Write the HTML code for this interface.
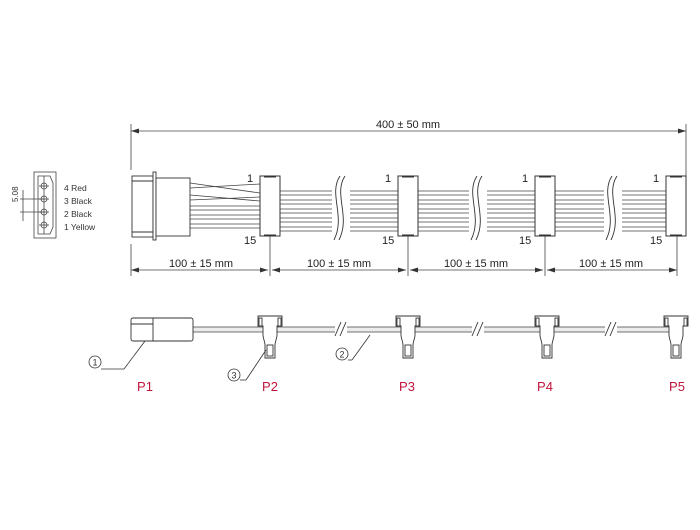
<!DOCTYPE html>
<html><head><meta charset="utf-8"><style>
html,body{margin:0;padding:0;background:#fff;width:700px;height:530px;overflow:hidden}
text{font-family:"Liberation Sans",sans-serif}
</style></head><body>
<svg width="700" height="530" viewBox="0 0 700 530" xmlns="http://www.w3.org/2000/svg">
<defs>
<marker id="ar" markerWidth="8" markerHeight="6" refX="8" refY="3" orient="auto-start-reverse" markerUnits="userSpaceOnUse"><path d="M0,0.5 L8,3 L0,5.5 z" fill="#333"/></marker>
<g id="blk">
<rect x="0" y="0" width="20" height="60" fill="#fff" stroke="#333" stroke-width="1"/>
<line x1="4" y1="0.5" x2="16" y2="0.5" stroke="#333" stroke-width="2"/>
<line x1="4" y1="59.5" x2="16" y2="59.5" stroke="#333" stroke-width="2"/>
</g>
<g id="sq" fill="none" stroke="#333" stroke-width="0.9">
<path d="M6,0 C-6,18 12,40 0,64"/><path d="M11,0 C-1,18 17,40 5,64"/>
</g>
<g id="sc" fill="#fff" stroke="#333" stroke-width="0.9">
<path d="M-12,316 L12,316 L12,326 L7,326 L7,336 L5,344 L5,358 L-5,358 L-5,344 L-7,336 L-7,326 L-12,326 Z"/>
<rect x="-11" y="318" width="3" height="8"/><rect x="8" y="318" width="3" height="8"/>
<rect x="-3" y="345" width="6" height="11"/>
</g>
<g id="brk" stroke="#333" stroke-width="0.9"><line x1="-5" y1="336" x2="1" y2="322"/><line x1="0" y1="336" x2="6" y2="322"/></g>
</defs>

<g stroke="#444" fill="none" stroke-width="0.8">
<rect x="34" y="172" width="22" height="66"/>
<path d="M38,176 L50,176 L53,183 L53,227 L50,234 L38,234 Z"/>
<line x1="44" y1="176" x2="44" y2="234"/>
<circle cx="44" cy="186" r="3"/><circle cx="44" cy="199" r="3"/><circle cx="44" cy="212" r="3"/><circle cx="44" cy="225" r="3"/>
<line x1="39" y1="186" x2="49" y2="186"/><line x1="39" y1="199" x2="49" y2="199"/><line x1="39" y1="212" x2="49" y2="212"/><line x1="39" y1="225" x2="49" y2="225"/>
<line x1="20" y1="199" x2="44" y2="199"/><line x1="20" y1="212" x2="44" y2="212"/>
<line x1="23" y1="190" x2="23" y2="221"/>
</g>
<text x="22" y="206" font-size="8" transform="rotate(-90 18 206)" fill="#333">5.08</text>
<g font-size="8.5" fill="#333">
<text x="64" y="191">4  Red</text><text x="64" y="204">3  Black</text><text x="64" y="217">2  Black</text><text x="64" y="230">1  Yellow</text>
</g>

<g stroke="#444" stroke-width="0.8">
<line x1="131" y1="124" x2="131" y2="170"/><line x1="686" y1="124" x2="686" y2="176"/>
<line x1="131" y1="131" x2="686" y2="131" marker-start="url(#ar)" marker-end="url(#ar)"/>
</g>
<text x="408" y="128" font-size="11" text-anchor="middle" fill="#222">400 ± 50 mm</text>

<g stroke="#444" stroke-width="0.8">
<line x1="190" y1="183" x2="260" y2="193"/><line x1="190" y1="188" x2="260" y2="184"/>
<line x1="190" y1="195" x2="260" y2="201"/><line x1="190" y1="200" x2="260" y2="197"/>
<line x1="190" y1="206" x2="260" y2="206"/><line x1="190" y1="210" x2="260" y2="210"/>
<line x1="190" y1="215" x2="260" y2="215"/><line x1="190" y1="219" x2="260" y2="219"/>
<line x1="190" y1="224" x2="260" y2="224"/><line x1="190" y1="228" x2="260" y2="228"/>
</g>
<g stroke="#444" stroke-width="0.8">
<line x1="280" y1="191" x2="666" y2="191"/><line x1="280" y1="195" x2="666" y2="195"/>
<line x1="280" y1="200" x2="666" y2="200"/><line x1="280" y1="204" x2="666" y2="204"/>
<line x1="280" y1="209" x2="666" y2="209"/><line x1="280" y1="213" x2="666" y2="213"/>
<line x1="280" y1="218" x2="666" y2="218"/><line x1="280" y1="222" x2="666" y2="222"/>
<line x1="280" y1="227" x2="666" y2="227"/><line x1="280" y1="231" x2="666" y2="231"/>
</g>
<rect x="332" y="176" width="18" height="68" fill="#fff"/>
<rect x="469" y="176" width="18" height="68" fill="#fff"/>
<rect x="604" y="176" width="18" height="68" fill="#fff"/>
<use href="#sq" x="334" y="176"/><use href="#sq" x="471" y="176"/><use href="#sq" x="606" y="176"/>

<g fill="#fff" stroke="#333" stroke-width="0.9">
<rect x="132" y="176" width="21" height="61"/>
<rect x="153" y="172" width="3" height="68"/>
<rect x="156" y="178" width="34" height="58"/>
<line x1="132" y1="181" x2="153" y2="181"/><line x1="132" y1="232" x2="153" y2="232"/>
</g>

<use href="#blk" x="260" y="176"/><use href="#blk" x="398" y="176"/><use href="#blk" x="535" y="176"/><use href="#blk" x="666" y="176"/>
<g font-size="11" fill="#222">
<text x="247" y="182">1</text><text x="385" y="182">1</text><text x="522" y="182">1</text><text x="653" y="182">1</text>
<text x="244" y="244">15</text><text x="382" y="244">15</text><text x="519" y="244">15</text><text x="650" y="244">15</text>
</g>

<g stroke="#444" stroke-width="0.8">
<line x1="131" y1="244" x2="131" y2="276"/>
<line x1="270" y1="236" x2="270" y2="276"/><line x1="408" y1="236" x2="408" y2="276"/>
<line x1="545" y1="236" x2="545" y2="276"/><line x1="677" y1="236" x2="677" y2="276"/>
<line x1="131" y1="270" x2="268" y2="270" marker-start="url(#ar)" marker-end="url(#ar)"/>
<line x1="272" y1="270" x2="406" y2="270" marker-start="url(#ar)" marker-end="url(#ar)"/>
<line x1="410" y1="270" x2="543" y2="270" marker-start="url(#ar)" marker-end="url(#ar)"/>
<line x1="547" y1="270" x2="677" y2="270" marker-start="url(#ar)" marker-end="url(#ar)"/>
</g>
<g font-size="11" fill="#222" text-anchor="middle">
<text x="201" y="267">100 ± 15 mm</text><text x="339" y="267">100 ± 15 mm</text>
<text x="476" y="267">100 ± 15 mm</text><text x="611" y="267">100 ± 15 mm</text>
</g>

<rect x="192" y="327" width="488" height="5" fill="#ececec"/>
<g stroke="#444" stroke-width="0.8">
<line x1="192" y1="327" x2="680" y2="327"/><line x1="192" y1="332" x2="680" y2="332"/>
</g>
<g fill="#fff" stroke="#333" stroke-width="0.9">
<rect x="131" y="318" width="62" height="23" rx="2"/>
<line x1="153" y1="318" x2="153" y2="341"/><line x1="131" y1="324" x2="153" y2="324"/>
</g>
<rect x="335" y="320" width="12" height="16" fill="#fff"/>
<rect x="472" y="320" width="12" height="16" fill="#fff"/>
<rect x="605" y="320" width="12" height="16" fill="#fff"/>
<use href="#brk" x="340" y="0"/><use href="#brk" x="477" y="0"/><use href="#brk" x="610" y="0"/>
<use href="#sc" x="270" y="0"/><use href="#sc" x="408" y="0"/><use href="#sc" x="547" y="0"/><use href="#sc" x="676" y="0"/>

<g stroke="#333" stroke-width="0.8" fill="none">
<circle cx="95" cy="362" r="6"/><line x1="101" y1="369" x2="124" y2="369"/><line x1="124" y1="369" x2="145" y2="341"/>
<circle cx="234" cy="375" r="6"/><line x1="240" y1="380" x2="246" y2="380"/><line x1="246" y1="380" x2="266" y2="350"/>
<circle cx="342" cy="354" r="6"/><line x1="348" y1="360" x2="352" y2="360"/><line x1="352" y1="360" x2="370" y2="335"/>
</g>
<g font-size="9" fill="#333" text-anchor="middle">
<text x="95" y="365.5">1</text><text x="234" y="378.5">3</text><text x="342" y="357.5">2</text>
</g>

<g font-size="13" fill="#c0143c" text-anchor="middle">
<text x="145" y="391">P1</text><text x="270" y="391">P2</text><text x="407" y="391">P3</text><text x="545" y="391">P4</text><text x="677" y="391">P5</text>
</g>
</svg>
</body></html>
